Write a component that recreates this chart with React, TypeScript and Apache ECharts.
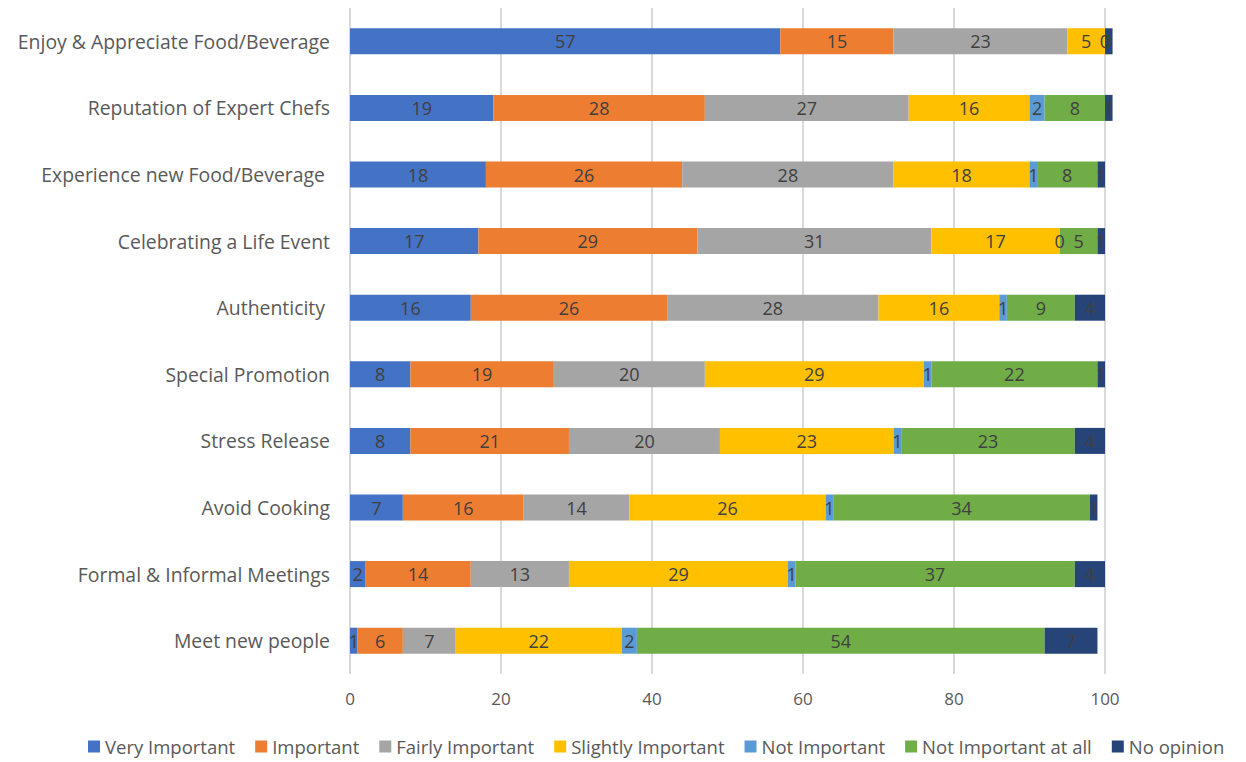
import React, { useEffect, useRef } from "react";
import * as echarts from "echarts";

const categories = [
  "Enjoy & Appreciate Food/Beverage",
  "Reputation of Expert Chefs",
  "Experience new Food/Beverage ",
  "Celebrating a Life Event",
  "Authenticity ",
  "Special Promotion",
  "Stress Release",
  "Avoid Cooking",
  "Formal & Informal Meetings",
  "Meet new people",
];

const seriesNames = [
  "Very Important",
  "Important",
  "Fairly Important",
  "Slightly Important",
  "Not Important",
  "Not Important at all",
  "No opinion",
];

const veryImportant = [57, 19, 18, 17, 16, 8, 8, 7, 2, 1];
const important = [15, 28, 26, 29, 26, 19, 21, 16, 14, 6];
const fairlyImportant = [23, 27, 28, 31, 28, 20, 20, 14, 13, 7];
const slightlyImportant = [5, 16, 18, 17, 16, 29, 23, 26, 29, 22];
const notImportant = [0, 2, 1, 0, 1, 1, 1, 1, 1, 2];
const notImportantAtAll = [0, 8, 8, 5, 9, 22, 23, 34, 37, 54];
const noOpinion = [1, 1, 1, 1, 4, 1, 4, 1, 4, 7];

const xTicks = [0, 20, 40, 60, 80, 100];

const colors = ["#4472C4", "#ED7D31", "#A5A5A5", "#FFC000", "#5B9BD5", "#70AD47", "#264478"];

const seriesData = [
  veryImportant,
  important,
  fairlyImportant,
  slightlyImportant,
  notImportant,
  notImportantAtAll,
  noOpinion,
];

export default function App() {
  const ref = useRef<HTMLDivElement>(null);
  useEffect(() => {
    if (!ref.current) return;
    const chart = echarts.init(ref.current, null, { renderer: "svg" });
    const font = "'Open Sans', 'Noto Sans', sans-serif";
    chart.setOption({
      animation: false,
      color: colors,
      textStyle: { fontFamily: font },
      grid: { left: 350, right: 141, top: 8, bottom: 88, containLabel: false },
      xAxis: {
        type: "value",
        min: xTicks[0],
        max: xTicks[xTicks.length - 1],
        interval: 20,
        axisLine: { show: false },
        axisTick: { show: false },
        axisLabel: { color: "#595959", fontSize: 17, margin: 16, fontFamily: font },
        splitLine: { lineStyle: { color: "#D9D9D9", width: 2 } },
      },
      yAxis: {
        type: "category",
        data: categories,
        inverse: true,
        axisLine: { show: false },
        axisTick: { show: false },
        axisLabel: { color: "#595959", fontSize: 19.4, margin: 20, fontFamily: font },
        splitLine: { show: false },
      },
      legend: {
        bottom: 1,
        left: 83,
        itemWidth: 12,
        itemHeight: 12,
        itemGap: 20,
        icon: "rect",
        textStyle: { color: "#595959", fontSize: 18.5, fontFamily: font },
        data: seriesNames,
      },
      series: seriesNames.map((name, i) => ({
        name,
        type: "bar",
        stack: "total",
        barWidth: 26,
        clip: false,
        data: seriesData[i].map((v, j) =>
          i === 5 && v === 0 && notImportant[j] === 0
            ? { value: v, label: { show: false } }
            : v
        ),
        label: {
          show: true,
          position: "inside",
          color: "#404040",
          fontSize: 18,
          fontFamily: font,
        },
      })),
    });
    return () => chart.dispose();
  }, []);
  return <div ref={ref} style={{ width: 1246, height: 762, margin: "-8px 0 0 -8px" }} />;
}
